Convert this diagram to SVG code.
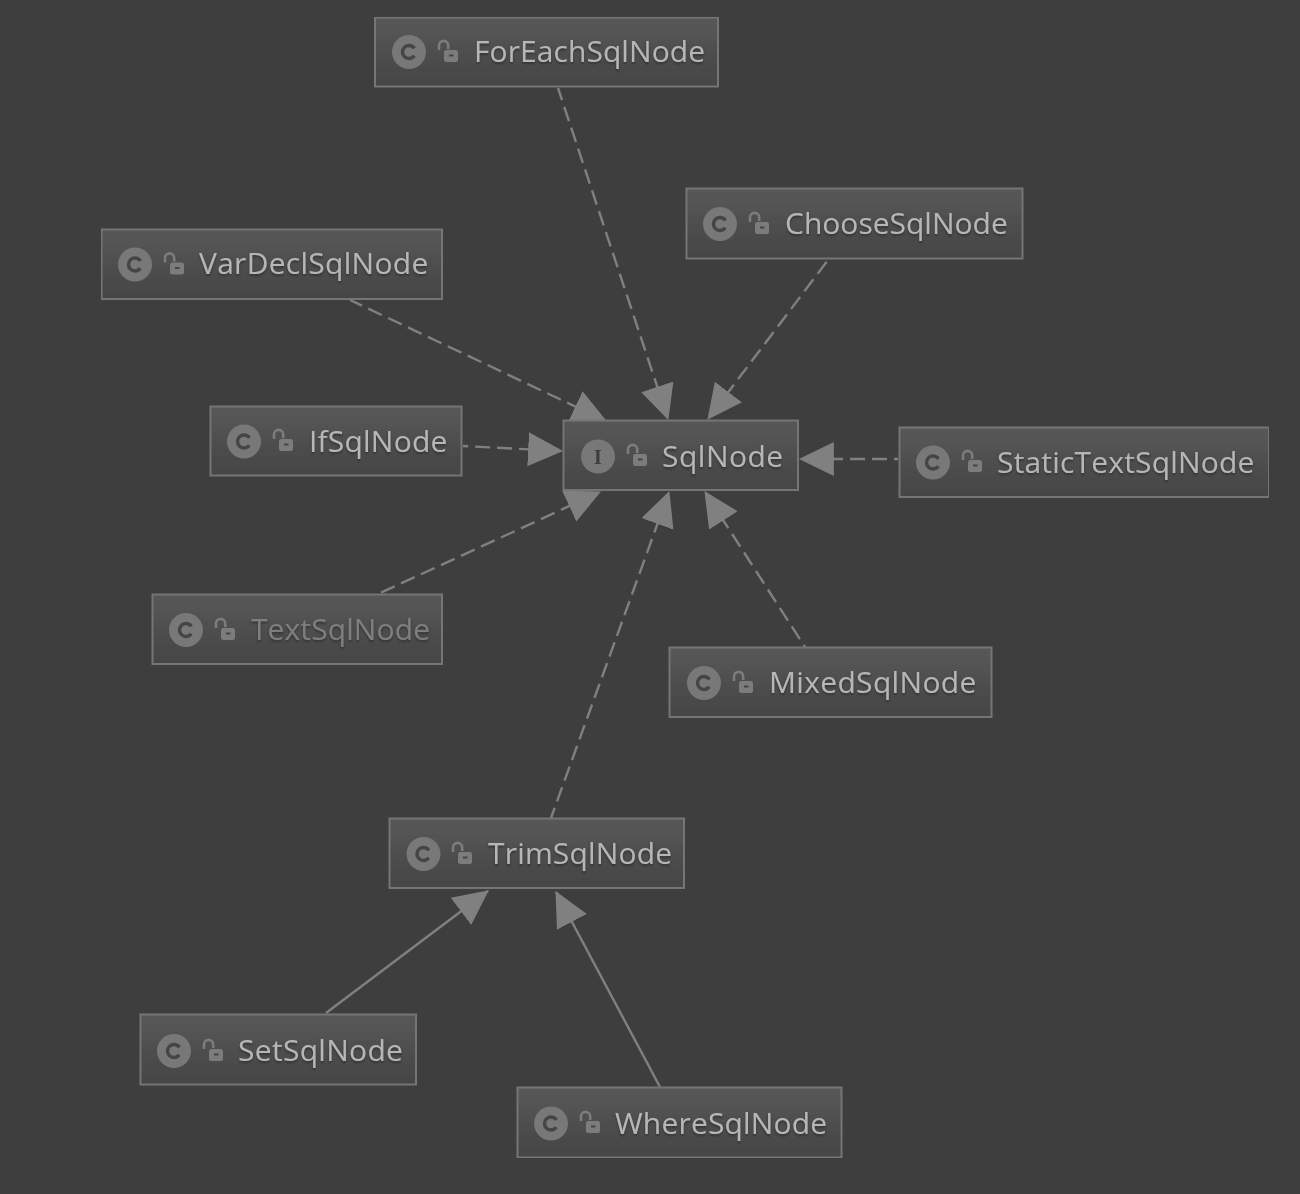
<svg xmlns="http://www.w3.org/2000/svg" width="1300" height="1194" viewBox="0 0 1300 1194">
<style>
.box{fill:url(#nodeFill);stroke:#757575;stroke-width:2}
.ico{fill:#787878}
.gl{font-family:"Liberation Serif",serif;font-weight:bold;font-size:20px;fill:#3c3c3c;text-anchor:middle}
.c{fill:none;stroke:#444444;stroke-width:3.4}
.lk{fill:#7c7c7c}
.lks{fill:none;stroke:#7c7c7c;stroke-width:2.6}
.t{font-family:"Open Sans","Noto Sans",sans-serif;font-size:30px;fill:#b6b6b6;filter:url(#sh)}
.dim{fill:#7e7e7e}
.e{stroke:#808080;stroke-width:2.4;fill:none}
.d{stroke-dasharray:15 7;stroke-dashoffset:-6}
.h{fill:#808080}
</style>
<defs>
<linearGradient id="nodeFill" x1="0" y1="0" x2="0" y2="1"><stop offset="0" stop-color="#585858"/><stop offset="1" stop-color="#454545"/></linearGradient>
<filter id="sh" x="-5%" y="-20%" width="110%" height="150%"><feDropShadow dx="0" dy="2" stdDeviation="1" flood-color="#2a2a2a" flood-opacity="0.8"/></filter>
<filter id="soft" x="0" y="0" width="100%" height="100%"><feGaussianBlur stdDeviation="0.55"/></filter>
<marker id="arr" markerUnits="userSpaceOnUse" markerWidth="36" markerHeight="36" refX="32" refY="17" orient="auto-start-reverse" viewBox="0 0 34 34"><path class="h" d="M0 1L33 17L0 33Z"/></marker>
<g id="lock"><path class="lks" d="M-9 -3V-7.5A4.6 4.6 0 0 1 0.2 -7.5V-4"/><rect class="lk" x="-4" y="-3" width="14" height="12" rx="2.5"/><rect x="1" y="1.5" width="4.5" height="2" fill="#454545"/></g>
</defs>
<rect width="1300" height="1194" fill="#3e3e3e"/>
<g filter="url(#soft)">
<g id="connectors">
<line class="e d" x2="558" y2="88" x1="668" y1="419" marker-start="url(#arr)"/>
<line class="e d" x2="828" y2="260" x1="708" y1="419" marker-start="url(#arr)"/>
<line class="e d" x2="350" y2="300" x1="606" y1="421" marker-start="url(#arr)"/>
<line class="e d" x2="463" y2="446" x1="562" y1="451" marker-start="url(#arr)"/>
<line class="e d" x2="378" y2="594" x1="600" y1="492" marker-start="url(#arr)"/>
<line class="e d" x2="551" y2="818" x1="669" y1="492" marker-start="url(#arr)"/>
<line class="e d" x2="805" y2="647" x1="705" y1="492" marker-start="url(#arr)"/>
<line class="e d" x2="898" y2="459" x1="800" y1="459" marker-start="url(#arr)"/>
<line class="e" x2="326" y2="1013" x1="488" y1="891" marker-start="url(#arr)"/>
<line class="e" x2="660" y2="1087" x1="556" y1="892" marker-start="url(#arr)"/>
</g>
<g id="ForEachSqlNode"><rect class="box" x="375" y="17.5" width="343" height="69"/><circle class="ico" cx="409" cy="52" r="17"/><circle class="c" cx="409" cy="52" r="6.5" stroke-dasharray="32 9" stroke-dashoffset="-4"/><use href="#lock" x="448" y="53"/><text class="t" x="474" y="61.5" letter-spacing="0.07">ForEachSqlNode</text></g>
<g id="ChooseSqlNode"><rect class="box" x="686.500" y="188.500" width="336" height="70"/><circle class="ico" cx="720" cy="224" r="17"/><circle class="c" cx="720" cy="224" r="6.5" stroke-dasharray="32 9" stroke-dashoffset="-4"/><use href="#lock" x="759" y="225"/><text class="t" x="785" y="233.500">ChooseSqlNode</text></g>
<g id="VarDeclSqlNode"><rect class="box" x="101.500" y="229.500" width="340.500" height="69.500"/><circle class="ico" cx="135" cy="264.500" r="17"/><circle class="c" cx="135" cy="264.500" r="6.5" stroke-dasharray="32 9" stroke-dashoffset="-4"/><use href="#lock" x="174" y="265.500"/><text class="t" x="199" y="273.500" letter-spacing="0.28">VarDeclSqlNode</text></g>
<g id="IfSqlNode"><rect class="box" x="210.500" y="406.500" width="251" height="69"/><circle class="ico" cx="244" cy="441.500" r="17"/><circle class="c" cx="244" cy="441.500" r="6.500" stroke-dasharray="32 9" stroke-dashoffset="-4"/><use href="#lock" x="283" y="442"/><text class="t" x="309" y="451.500" letter-spacing="0.2">IfSqlNode</text></g>
<g id="SqlNode"><rect class="box" x="563.500" y="420.500" width="234.500" height="69.500"/><circle class="ico" cx="598" cy="456.500" r="17"/><text class="gl" x="598" y="463.500">I</text><use href="#lock" x="637" y="457"/><text class="t" x="662" y="466.500" letter-spacing="0.5">SqlNode</text></g>
<g id="StaticTextSqlNode"><rect class="box" x="899.500" y="427.500" width="369.500" height="69.500"/><circle class="ico" cx="933" cy="462.500" r="17"/><circle class="c" cx="933" cy="462.500" r="6.500" stroke-dasharray="32 9" stroke-dashoffset="-4"/><use href="#lock" x="972" y="463"/><text class="t" x="997" y="472.500" letter-spacing="0.18">StaticTextSqlNode</text></g>
<g id="TextSqlNode"><rect class="box" x="152.500" y="594.500" width="289.500" height="69.500"/><circle class="ico" cx="186" cy="630" r="17"/><circle class="c" cx="186" cy="630" r="6.500" stroke-dasharray="32 9" stroke-dashoffset="-4"/><use href="#lock" x="225" y="631"/><text class="t dim" x="251" y="639.500" letter-spacing="0.1">TextSqlNode</text></g>
<g id="MixedSqlNode"><rect class="box" x="669.500" y="647.500" width="322" height="69.500"/><circle class="ico" cx="704" cy="683" r="17"/><circle class="c" cx="704" cy="683" r="6.500" stroke-dasharray="32 9" stroke-dashoffset="-4"/><use href="#lock" x="743" y="684"/><text class="t" x="769" y="692.500" letter-spacing="0.33">MixedSqlNode</text></g>
<g id="TrimSqlNode"><rect class="box" x="389.500" y="818.500" width="294.500" height="69.500"/><circle class="ico" cx="423.500" cy="854" r="17"/><circle class="c" cx="423.500" cy="854" r="6.500" stroke-dasharray="32 9" stroke-dashoffset="-4"/><use href="#lock" x="462" y="855"/><text class="t" x="488" y="863.500" letter-spacing="0.18">TrimSqlNode</text></g>
<g id="SetSqlNode"><rect class="box" x="140.500" y="1014.500" width="275.500" height="70"/><circle class="ico" cx="174" cy="1051" r="17"/><circle class="c" cx="174" cy="1051" r="6.500" stroke-dasharray="32 9" stroke-dashoffset="-4"/><use href="#lock" x="213" y="1052"/><text class="t" x="238" y="1060.500" letter-spacing="0.3">SetSqlNode</text></g>
<g id="WhereSqlNode"><rect class="box" x="517.500" y="1087.500" width="324" height="70"/><circle class="ico" cx="551" cy="1123.500" r="17"/><circle class="c" cx="551" cy="1123.500" r="6.500" stroke-dasharray="32 9" stroke-dashoffset="-4"/><use href="#lock" x="590" y="1124"/><text class="t" x="615" y="1133.500" letter-spacing="0.17">WhereSqlNode</text></g>
</g>
</svg>
